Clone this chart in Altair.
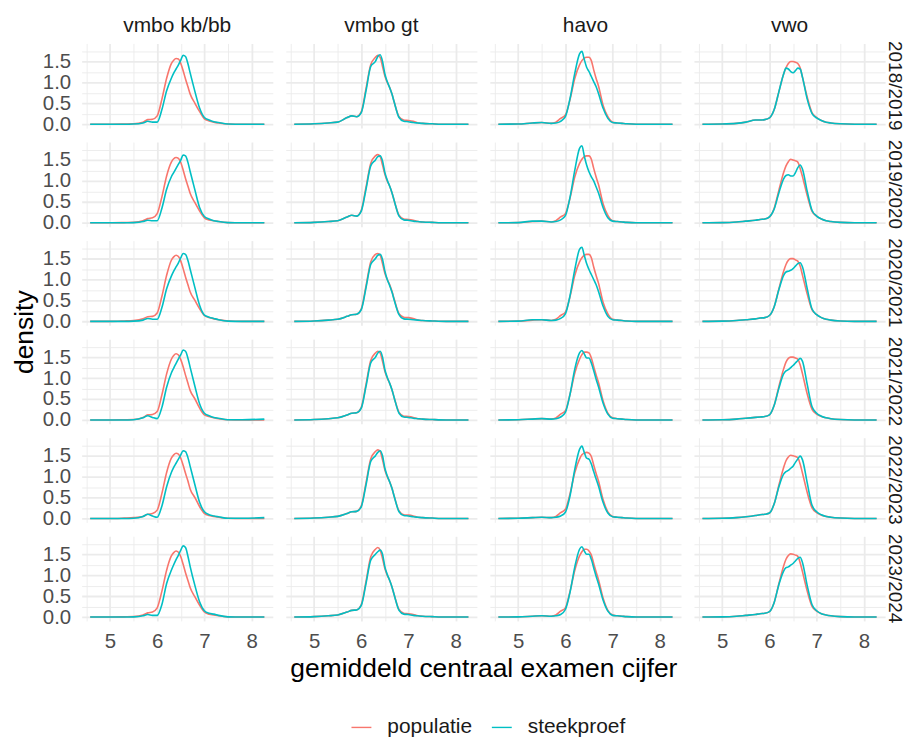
import altair as alt
import pandas as pd

# ---- data ----
niveaus = ["vmbo kb/bb", "vmbo gt", "havo", "vwo"]
jaren = ["2018/2019", "2019/2020", "2020/2021", "2021/2022", "2022/2023", "2023/2024"]
bronnen = ["populatie", "steekproef"]

X = [4.58, 5.0, 5.3, 5.5, 5.7, 5.8, 5.9, 6.0, 6.1, 6.2, 6.3, 6.35, 6.4, 6.45, 6.5,
     6.55, 6.6, 6.65, 6.7, 6.8, 6.9, 7.0, 7.1, 7.2, 7.3, 7.5, 7.8, 8.27]

# vmbo kb/bb
kb_pop = [
    [0, 0, 0.005, 0.01, 0.05, 0.11, 0.12, 0.2, 0.6, 1.1, 1.45, 1.53, 1.57, 1.56, 1.45, 1.28, 1.08, 0.9, 0.72, 0.5, 0.3, 0.13, 0.08, 0.05, 0.03, 0.005, 0, 0],
    [0, 0, 0.005, 0.01, 0.05, 0.1, 0.12, 0.22, 0.62, 1.12, 1.45, 1.53, 1.56, 1.54, 1.44, 1.26, 1.06, 0.88, 0.7, 0.48, 0.28, 0.12, 0.07, 0.05, 0.03, 0.005, 0, 0],
    [0, 0, 0.01, 0.02, 0.06, 0.11, 0.12, 0.2, 0.6, 1.1, 1.46, 1.54, 1.58, 1.55, 1.44, 1.26, 1.06, 0.88, 0.7, 0.5, 0.3, 0.14, 0.09, 0.06, 0.04, 0.01, 0, 0],
    [0, 0, 0.005, 0.01, 0.06, 0.12, 0.13, 0.2, 0.6, 1.1, 1.45, 1.54, 1.58, 1.55, 1.44, 1.27, 1.07, 0.88, 0.7, 0.5, 0.28, 0.12, 0.08, 0.05, 0.03, 0.005, 0, 0],
    [0, 0, 0.01, 0.02, 0.05, 0.1, 0.12, 0.2, 0.6, 1.1, 1.44, 1.52, 1.56, 1.54, 1.44, 1.27, 1.08, 0.9, 0.7, 0.5, 0.28, 0.12, 0.07, 0.05, 0.03, 0.005, 0, 0],
    [0, 0, 0.005, 0.01, 0.05, 0.1, 0.12, 0.22, 0.62, 1.12, 1.46, 1.54, 1.58, 1.55, 1.44, 1.26, 1.06, 0.88, 0.7, 0.48, 0.28, 0.12, 0.07, 0.05, 0.03, 0.005, 0, 0],
]
kb_stk = [
    [0, 0, 0, 0.005, 0.03, 0.07, 0.05, 0.05, 0.35, 0.8, 1.1, 1.22, 1.32, 1.42, 1.53, 1.65, 1.62, 1.45, 1.22, 0.78, 0.38, 0.16, 0.1, 0.06, 0.04, 0.005, 0, 0],
    [0, 0, 0, 0.005, 0.03, 0.06, 0.05, 0.05, 0.35, 0.8, 1.1, 1.2, 1.3, 1.4, 1.5, 1.62, 1.6, 1.45, 1.22, 0.78, 0.36, 0.15, 0.09, 0.05, 0.03, 0.005, 0, 0],
    [0, 0, 0, 0.005, 0.03, 0.07, 0.05, 0.05, 0.33, 0.78, 1.08, 1.2, 1.3, 1.4, 1.52, 1.62, 1.6, 1.46, 1.24, 0.8, 0.38, 0.15, 0.1, 0.07, 0.04, 0.005, 0, 0],
    [0, 0, 0, 0.005, 0.05, 0.1, 0.06, 0.03, 0.3, 0.78, 1.12, 1.24, 1.35, 1.46, 1.56, 1.67, 1.64, 1.48, 1.25, 0.8, 0.38, 0.16, 0.1, 0.06, 0.04, 0.005, 0.005, 0.02],
    [0, 0, 0, 0.005, 0.05, 0.1, 0.06, 0.03, 0.3, 0.76, 1.1, 1.22, 1.32, 1.42, 1.52, 1.62, 1.6, 1.46, 1.24, 0.8, 0.38, 0.16, 0.09, 0.06, 0.04, 0.005, 0.005, 0.02],
    [0, 0, 0, 0.005, 0.03, 0.06, 0.04, 0.04, 0.3, 0.8, 1.12, 1.25, 1.37, 1.48, 1.6, 1.7, 1.66, 1.46, 1.2, 0.75, 0.36, 0.15, 0.09, 0.07, 0.04, 0.005, 0, 0],
]

# vmbo gt
gt_pop = [
    [0, 0.01, 0.03, 0.05, 0.16, 0.2, 0.18, 0.3, 0.85, 1.42, 1.6, 1.65, 1.6, 1.38, 1.15, 1.0, 0.88, 0.72, 0.52, 0.18, 0.1, 0.09, 0.07, 0.03, 0.02, 0.01, 0, 0],
    [0, 0.01, 0.03, 0.05, 0.14, 0.18, 0.16, 0.3, 0.85, 1.42, 1.6, 1.63, 1.58, 1.38, 1.16, 1.0, 0.88, 0.72, 0.52, 0.18, 0.09, 0.08, 0.06, 0.03, 0.02, 0.01, 0, 0],
    [0, 0.01, 0.03, 0.05, 0.12, 0.16, 0.17, 0.3, 0.85, 1.42, 1.6, 1.62, 1.58, 1.38, 1.15, 1.0, 0.88, 0.72, 0.52, 0.18, 0.1, 0.09, 0.07, 0.03, 0.02, 0.01, 0, 0],
    [0, 0.01, 0.03, 0.05, 0.12, 0.16, 0.17, 0.3, 0.85, 1.42, 1.6, 1.64, 1.6, 1.4, 1.16, 1.0, 0.88, 0.72, 0.52, 0.18, 0.09, 0.08, 0.06, 0.03, 0.02, 0.01, 0, 0],
    [0, 0.01, 0.03, 0.05, 0.12, 0.16, 0.17, 0.3, 0.85, 1.42, 1.6, 1.64, 1.6, 1.4, 1.16, 1.0, 0.88, 0.72, 0.52, 0.18, 0.09, 0.08, 0.06, 0.03, 0.02, 0.01, 0, 0],
    [0, 0.01, 0.03, 0.05, 0.12, 0.16, 0.17, 0.3, 0.85, 1.44, 1.62, 1.66, 1.6, 1.4, 1.16, 1.0, 0.88, 0.72, 0.52, 0.18, 0.09, 0.08, 0.06, 0.03, 0.02, 0.01, 0, 0],
]
gt_stk = [
    [0, 0.01, 0.03, 0.05, 0.16, 0.2, 0.18, 0.28, 0.8, 1.38, 1.5, 1.62, 1.66, 1.5, 1.2, 1.02, 0.88, 0.72, 0.52, 0.16, 0.07, 0.06, 0.04, 0.03, 0.02, 0.01, 0, 0],
    [0, 0.01, 0.03, 0.05, 0.14, 0.18, 0.16, 0.28, 0.8, 1.36, 1.5, 1.58, 1.6, 1.48, 1.2, 1.02, 0.88, 0.72, 0.52, 0.16, 0.07, 0.06, 0.04, 0.03, 0.02, 0.01, 0, 0],
    [0, 0.01, 0.03, 0.05, 0.12, 0.16, 0.17, 0.28, 0.8, 1.36, 1.5, 1.58, 1.6, 1.48, 1.2, 1.0, 0.86, 0.7, 0.5, 0.16, 0.06, 0.05, 0.04, 0.03, 0.02, 0.01, 0, 0],
    [0, 0.01, 0.03, 0.05, 0.12, 0.16, 0.17, 0.28, 0.8, 1.36, 1.5, 1.6, 1.64, 1.5, 1.2, 1.02, 0.88, 0.72, 0.52, 0.16, 0.07, 0.06, 0.04, 0.03, 0.02, 0.01, 0, 0],
    [0, 0.01, 0.03, 0.05, 0.12, 0.16, 0.17, 0.28, 0.8, 1.36, 1.5, 1.58, 1.62, 1.5, 1.2, 1.02, 0.88, 0.72, 0.52, 0.16, 0.07, 0.06, 0.04, 0.03, 0.02, 0.01, 0, 0],
    [0, 0.01, 0.03, 0.05, 0.12, 0.16, 0.17, 0.28, 0.8, 1.36, 1.5, 1.56, 1.6, 1.5, 1.2, 1.02, 0.88, 0.72, 0.52, 0.16, 0.07, 0.06, 0.04, 0.03, 0.02, 0.01, 0, 0],
]

# havo
havo_pop = [
    [0, 0.005, 0.03, 0.04, 0.02, 0.05, 0.14, 0.22, 0.6, 1.1, 1.42, 1.52, 1.58, 1.6, 1.6, 1.52, 1.3, 1.1, 0.92, 0.45, 0.18, 0.05, 0.03, 0.02, 0.01, 0, 0, 0],
    [0, 0.005, 0.03, 0.04, 0.02, 0.05, 0.14, 0.22, 0.6, 1.1, 1.42, 1.52, 1.58, 1.6, 1.6, 1.52, 1.3, 1.1, 0.92, 0.45, 0.18, 0.05, 0.03, 0.02, 0.01, 0, 0, 0],
    [0, 0.005, 0.03, 0.04, 0.02, 0.05, 0.14, 0.22, 0.6, 1.1, 1.42, 1.52, 1.58, 1.6, 1.6, 1.52, 1.3, 1.1, 0.92, 0.45, 0.18, 0.05, 0.03, 0.02, 0.01, 0, 0, 0],
    [0, 0.005, 0.02, 0.03, 0.02, 0.05, 0.14, 0.22, 0.62, 1.12, 1.45, 1.56, 1.62, 1.62, 1.6, 1.48, 1.28, 1.08, 0.9, 0.45, 0.16, 0.05, 0.03, 0.02, 0.01, 0, 0, 0],
    [0, 0.005, 0.02, 0.03, 0.02, 0.05, 0.14, 0.22, 0.6, 1.1, 1.42, 1.52, 1.56, 1.58, 1.56, 1.48, 1.28, 1.08, 0.9, 0.45, 0.16, 0.05, 0.03, 0.02, 0.01, 0, 0, 0],
    [0, 0.005, 0.02, 0.03, 0.02, 0.05, 0.14, 0.22, 0.62, 1.12, 1.46, 1.56, 1.62, 1.62, 1.58, 1.48, 1.28, 1.08, 0.9, 0.45, 0.16, 0.05, 0.03, 0.02, 0.01, 0, 0, 0],
]
havo_stk = [
    [0, 0.005, 0.03, 0.04, 0.02, 0.03, 0.07, 0.18, 0.62, 1.22, 1.68, 1.74, 1.55, 1.36, 1.26, 1.14, 1.02, 0.9, 0.74, 0.38, 0.14, 0.04, 0.03, 0.02, 0.01, 0, 0, 0],
    [0, 0.005, 0.04, 0.04, 0.02, 0.03, 0.07, 0.17, 0.62, 1.26, 1.78, 1.84, 1.6, 1.38, 1.22, 1.1, 1.0, 0.86, 0.72, 0.36, 0.12, 0.04, 0.03, 0.02, 0.01, 0, 0, 0],
    [0, 0.005, 0.04, 0.04, 0.02, 0.03, 0.07, 0.18, 0.62, 1.24, 1.72, 1.77, 1.58, 1.38, 1.24, 1.12, 1.0, 0.88, 0.72, 0.36, 0.12, 0.04, 0.03, 0.02, 0.01, 0, 0, 0],
    [0, 0.005, 0.02, 0.03, 0.02, 0.03, 0.07, 0.18, 0.62, 1.22, 1.6, 1.66, 1.58, 1.48, 1.48, 1.36, 1.18, 0.98, 0.8, 0.4, 0.14, 0.04, 0.03, 0.02, 0.01, 0, 0, 0],
    [0, 0.005, 0.02, 0.03, 0.02, 0.03, 0.06, 0.15, 0.55, 1.18, 1.65, 1.73, 1.58, 1.44, 1.42, 1.3, 1.12, 0.95, 0.78, 0.38, 0.13, 0.04, 0.03, 0.02, 0.01, 0, 0, 0],
    [0, 0.005, 0.02, 0.03, 0.02, 0.03, 0.06, 0.18, 0.6, 1.2, 1.62, 1.68, 1.58, 1.5, 1.5, 1.38, 1.18, 0.98, 0.8, 0.4, 0.14, 0.04, 0.03, 0.02, 0.01, 0, 0, 0],
]

# vwo
vwo_pop = [
    [0, 0.005, 0.02, 0.05, 0.1, 0.1, 0.11, 0.15, 0.35, 0.78, 1.2, 1.35, 1.45, 1.5, 1.5, 1.48, 1.45, 1.35, 1.12, 0.65, 0.28, 0.16, 0.09, 0.05, 0.03, 0.01, 0, 0],
    [0, 0.005, 0.02, 0.04, 0.06, 0.08, 0.09, 0.14, 0.35, 0.78, 1.2, 1.36, 1.46, 1.52, 1.5, 1.48, 1.45, 1.3, 1.1, 0.65, 0.28, 0.16, 0.09, 0.05, 0.03, 0.01, 0, 0],
    [0, 0.005, 0.02, 0.04, 0.06, 0.08, 0.09, 0.14, 0.35, 0.78, 1.2, 1.36, 1.46, 1.5, 1.5, 1.47, 1.44, 1.32, 1.1, 0.65, 0.28, 0.16, 0.09, 0.05, 0.03, 0.01, 0, 0],
    [0, 0.005, 0.02, 0.04, 0.06, 0.07, 0.08, 0.12, 0.35, 0.8, 1.22, 1.38, 1.47, 1.5, 1.5, 1.48, 1.45, 1.32, 1.1, 0.62, 0.26, 0.14, 0.08, 0.05, 0.03, 0.01, 0, 0],
    [0, 0.005, 0.02, 0.04, 0.07, 0.09, 0.1, 0.13, 0.35, 0.8, 1.22, 1.38, 1.47, 1.51, 1.5, 1.48, 1.45, 1.3, 1.08, 0.62, 0.26, 0.14, 0.08, 0.05, 0.03, 0.01, 0, 0],
    [0, 0.005, 0.02, 0.04, 0.06, 0.08, 0.09, 0.13, 0.35, 0.8, 1.22, 1.38, 1.47, 1.51, 1.5, 1.48, 1.45, 1.3, 1.08, 0.62, 0.26, 0.14, 0.08, 0.05, 0.03, 0.01, 0, 0],
]
vwo_stk = [
    [0, 0.005, 0.02, 0.05, 0.1, 0.1, 0.11, 0.15, 0.35, 0.78, 1.2, 1.34, 1.32, 1.26, 1.23, 1.28, 1.34, 1.32, 1.12, 0.6, 0.26, 0.15, 0.09, 0.05, 0.03, 0.01, 0, 0],
    [0, 0.005, 0.02, 0.04, 0.06, 0.08, 0.09, 0.14, 0.33, 0.72, 1.05, 1.13, 1.15, 1.12, 1.12, 1.2, 1.32, 1.38, 1.28, 0.75, 0.3, 0.16, 0.09, 0.05, 0.03, 0.01, 0, 0],
    [0, 0.005, 0.02, 0.04, 0.06, 0.08, 0.09, 0.14, 0.35, 0.76, 1.1, 1.18, 1.2, 1.22, 1.26, 1.32, 1.38, 1.4, 1.3, 0.78, 0.3, 0.16, 0.09, 0.05, 0.03, 0.01, 0, 0],
    [0, 0.005, 0.02, 0.04, 0.06, 0.07, 0.08, 0.12, 0.35, 0.76, 1.1, 1.17, 1.2, 1.25, 1.3, 1.36, 1.42, 1.47, 1.4, 0.85, 0.32, 0.16, 0.09, 0.05, 0.03, 0.01, 0, 0],
    [0, 0.005, 0.02, 0.04, 0.07, 0.09, 0.1, 0.13, 0.35, 0.76, 1.06, 1.12, 1.15, 1.2, 1.25, 1.34, 1.42, 1.49, 1.4, 0.85, 0.32, 0.16, 0.09, 0.05, 0.03, 0.01, 0, 0],
    [0, 0.005, 0.02, 0.04, 0.06, 0.08, 0.09, 0.13, 0.35, 0.78, 1.1, 1.18, 1.2, 1.24, 1.28, 1.34, 1.4, 1.43, 1.3, 0.75, 0.3, 0.15, 0.08, 0.05, 0.03, 0.01, 0, 0],
]

curves = {
    ("vmbo kb/bb", "populatie"): kb_pop, ("vmbo kb/bb", "steekproef"): kb_stk,
    ("vmbo gt", "populatie"): gt_pop, ("vmbo gt", "steekproef"): gt_stk,
    ("havo", "populatie"): havo_pop, ("havo", "steekproef"): havo_stk,
    ("vwo", "populatie"): vwo_pop, ("vwo", "steekproef"): vwo_stk,
}

rows = []
for (niv, bron), per_jaar in curves.items():
    for jaar, ys in zip(jaren, per_jaar):
        for xv, yv in zip(X, ys):
            rows.append({"niveau": niv, "jaar": jaar, "bron": bron, "x": xv, "density": yv})
df = pd.DataFrame(rows)

FONT = "Liberation Sans"
x_ticks = [4.5, 5, 5.5, 6, 6.5, 7, 7.5, 8]
y_ticks = [0, 0.25, 0.5, 0.75, 1.0, 1.25, 1.5, 1.75]

grid_x = {"condition": {"test": "datum.value % 1 === 0", "value": 1.8}, "value": 0.9}
grid_y = {"condition": {"test": "(datum.value * 2) % 1 === 0", "value": 1.8}, "value": 0.9}

base = alt.Chart(df).mark_line(strokeWidth=1.6, interpolate="monotone").encode(
    x=alt.X("x:Q",
            scale=alt.Scale(domain=[4.40, 8.45], nice=False, zero=False),
            axis=alt.Axis(values=x_ticks,
                          labelExpr="datum.value % 1 === 0 ? format(datum.value, 'd') : ''",
                          gridWidth=grid_x, labelOverlap=False, labelFlush=False, labelPadding=11),
            title=None),
    y=alt.Y("density:Q",
            scale=alt.Scale(domain=[-0.092, 1.93], nice=False, zero=False),
            axis=alt.Axis(values=y_ticks,
                          labelExpr="(datum.value * 2) % 1 === 0 ? format(datum.value, '.1f') : ''",
                          gridWidth=grid_y, labelOverlap=False, labelFlush=False, labelPadding=11),
            title=None),
    color=alt.Color("bron:N", scale=alt.Scale(domain=bronnen, range=["#F8766D", "#00BFC4"]),
                    legend=alt.Legend(orient="none", legendX=270, legendY=676,
                                      direction="horizontal", title=None,
                                      symbolType="stroke", symbolStrokeWidth=1.4, symbolSize=400,
                                      labelFontSize=21, labelColor="#1A1A1A", columnPadding=16,
                                      labelOffset=15, labelFont=FONT)),
    detail="bron:N",
).properties(width=192, height=85)

chart = base.facet(
    column=alt.Column("niveau:N", sort=niveaus, title="gemiddeld centraal examen cijfer",
                      header=alt.Header(labelFontSize=21, labelColor="#1A1A1A", labelFont=FONT,
                                        labelPadding=8, labelOrient="top",
                                        titleOrient="bottom", titleFont=FONT, titleFontSize=26.5,
                                        titleFontWeight="normal", titleColor="#000000",
                                        titlePadding=-7)),
    row=alt.Row("jaar:N", sort=jaren, title="density",
                header=alt.Header(labelFontSize=19, labelColor="#1A1A1A", labelFont=FONT,
                                  labelAngle=90, labelOrient="right", labelPadding=0,
                                  titleOrient="left", titleFont=FONT, titleFontSize=26.5,
                                  titleFontWeight="normal", titleColor="#000000",
                                  titlePadding=-7)),
    spacing={"row": 14, "column": 13},
).properties(padding={"left": 4, "top": 5, "right": 5, "bottom": 0}).configure_view(
    stroke=None
).configure_axis(
    domain=False, ticks=False, gridColor="#EBEBEB",
    labelFont=FONT, labelFontSize=20.5, labelColor="#4D4D4D",
)

chart.save("out.html", embed_options={"renderer": "svg", "actions": False})
